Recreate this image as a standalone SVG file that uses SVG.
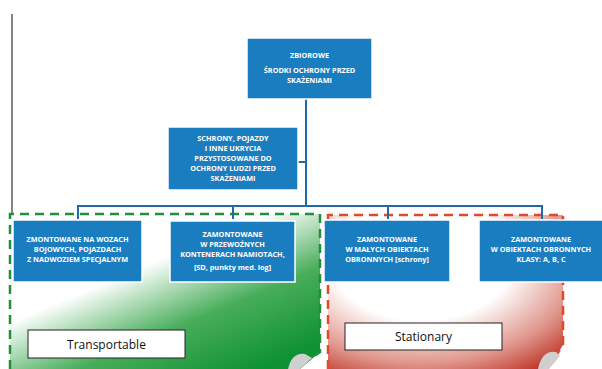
<svg xmlns="http://www.w3.org/2000/svg" width="602" height="369" viewBox="0 0 602 369">
<defs>
<style>
.box{fill:#1a7dc0;stroke:#ffffff;stroke-width:1.5}
.t{font-family:"Open Sans","Liberation Sans",sans-serif;font-weight:bold;font-size:7.3px;fill:#ffffff;text-anchor:middle}
.lbl{fill:#ffffff;stroke:#222222;stroke-width:1}
.lt{font-family:"Open Sans","Liberation Sans",sans-serif;font-size:12px;fill:#111111;text-anchor:middle}
.conn{fill:none;stroke:#1f6aa5;stroke-width:2}
</style>
<linearGradient id="gG" x1="0" y1="0.05" x2="0.8" y2="1">
<stop offset="0" stop-color="#ffffff"/>
<stop offset="0.4" stop-color="#ffffff"/>
<stop offset="0.7" stop-color="#48ad5a"/>
<stop offset="1" stop-color="#0f9233"/>
</linearGradient>
<radialGradient id="gR" cx="0.4" cy="0.3" r="0.85">
<stop offset="0" stop-color="#ffffff"/>
<stop offset="0.45" stop-color="#ffffff"/>
<stop offset="0.78" stop-color="#e0968c"/>
<stop offset="1" stop-color="#c0392b"/>
</radialGradient>
</defs>
<rect width="602" height="369" fill="#ffffff"/>
<line x1="12" y1="14" x2="12" y2="345" stroke="#333333" stroke-width="1.2"/>
<g id="region-transportable">
<path d="M10,214 L320,214 L320,352 L300,369 L10,369 Z" fill="url(#gG)"/>
<path d="M10,369 L10,214 L320,214 L320,352 L300,366" fill="none" stroke="#1e8f3a" stroke-width="2.5" stroke-dasharray="9,6"/>
<path d="M288,369 Q292,352 305,354 L312,358 L300,369 Z" fill="#cfcfcf"/>
</g>
<g id="region-stationary">
<path d="M328,215 L563,215 L563,345 L548,369 L328,369 Z" fill="url(#gR)"/>
<path d="M328,369 L328,215 L563,215 L563,345 L552,362" fill="none" stroke="#e04a2a" stroke-width="2.5" stroke-dasharray="9,6"/>
<path d="M538,369 Q542,350 556,352 L560,356 L549,369 Z" fill="#cfcfcf"/>
</g>
<g id="connectors">
<path class="conn" d="M306,98 L306,206"/>
<path class="conn" d="M298,162 L306,162"/>
<path class="conn" d="M78,219 L78,206 L542,206 L542,219"/>
<path class="conn" d="M233,206 L233,219"/>
<path class="conn" d="M388,206 L388,219"/>
</g>
<g id="n-top">
<rect class="box" x="247" y="38" width="125" height="61"/>
<text class="t" x="309.5" y="58">ZBIOROWE</text>
<text class="t" x="309.5" y="73">ŚRODKI OCHRONY PRZED</text>
<text class="t" x="309.5" y="83">SKAŻENIAMI</text>
</g>
<g id="n-schrony">
<rect class="box" x="168" y="127" width="130" height="63"/>
<text class="t" x="233" y="141">SCHRONY, POJAZDY</text>
<text class="t" x="233" y="151">I INNE UKRYCIA</text>
<text class="t" x="233" y="161">PRZYSTOSOWANE DO</text>
<text class="t" x="233" y="171">OCHRONY LUDZI PRZED</text>
<text class="t" x="233" y="181">SKAŻENIAMI</text>
</g>
<g id="n-wozy">
<rect class="box" x="13" y="220" width="129" height="62"/>
<text class="t" x="77.5" y="242">ZMONTOWANE NA WOZACH</text>
<text class="t" x="77.5" y="252">BOJOWYCH, POJAZDACH</text>
<text class="t" x="77.5" y="262">Z NADWOZIEM SPECJALNYM</text>
</g>
<g id="n-kontenery">
<rect class="box" x="170" y="221" width="125" height="61"/>
<text class="t" x="232.5" y="237">ZAMONTOWANE</text>
<text class="t" x="232.5" y="247">W PRZEWOŹNYCH</text>
<text class="t" x="232.5" y="257">KONTENERACH NAMIOTACH,</text>
<text class="t" x="232.5" y="270">[SD, punkty med. log]</text>
</g>
<g id="n-male">
<rect class="box" x="324" y="220" width="126" height="62"/>
<text class="t" x="387" y="242">ZAMONTOWANE</text>
<text class="t" x="387" y="252">W MAŁYCH OBIEKTACH</text>
<text class="t" x="387" y="262">OBRONNYCH [schrony]</text>
</g>
<g id="n-klasy">
<rect class="box" x="479" y="220" width="124" height="62"/>
<text class="t" x="541" y="242">ZAMONTOWANE</text>
<text class="t" x="541" y="252">W OBIEKTACH OBRONNYCH</text>
<text class="t" x="541" y="262">KLASY: A, B, C</text>
</g>
<g id="l-transportable">
<rect class="lbl" x="28" y="330" width="157" height="28"/>
<text class="lt" x="106.5" y="348.5">Transportable</text>
</g>
<g id="l-stationary">
<rect class="lbl" x="345" y="323" width="157" height="27"/>
<text class="lt" x="423.5" y="341">Stationary</text>
</g>
</svg>
